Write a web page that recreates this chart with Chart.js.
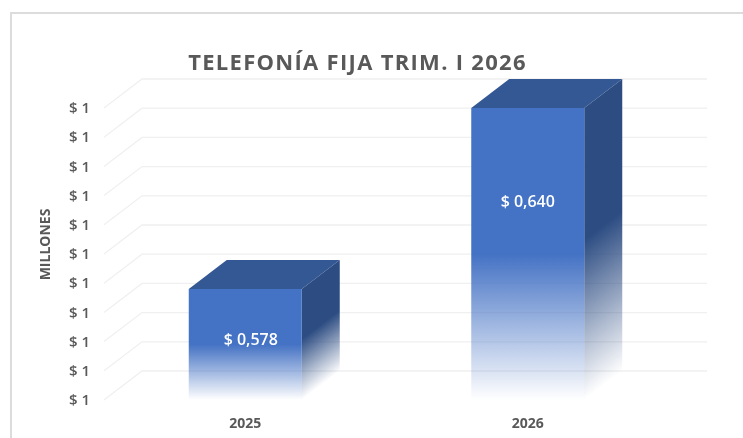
<!DOCTYPE html>
<html>
<head>
<meta charset="utf-8">
<style>
html,body{margin:0;padding:0;background:#fff;}
#wrap{position:relative;width:743px;height:438px;overflow:hidden;}
canvas{position:absolute;left:0;top:0;}
#frame{position:absolute;left:10px;top:12px;width:760px;height:460px;border:2px solid #dcdcdc;pointer-events:none;}
</style>
</head>
<body>
<div id="wrap"><canvas id="c" width="743" height="438"></canvas><div id="frame"></div></div>
<script src="https://cdn.jsdelivr.net/npm/chart.js@4"></script>
<script>
const categories = ['2025', '2026'];
const values = [0.578, 0.640];
const dataLabels = ['$ 0,578', '$ 0,640'];
const yTickLabels = ['$ 1','$ 1','$ 1','$ 1','$ 1','$ 1','$ 1','$ 1','$ 1','$ 1','$ 1'];
const titleText = 'TELEFONÍA FIJA TRIM. I 2026';
const yTitle = 'MILLONES';
const labelShift = [[5.5, -4], [0, -52]];
const depth = {x: 38, y: -29};
const FONT = '"Open Sans", sans-serif';

function rgba(c, a){ return 'rgba(' + c.join(',') + ',' + a + ')'; }

const cube = {
  id: 'cube',
  afterLayout(chart){
    const tb = chart.titleBlock;
    tb.left += 23;
    tb.right += 23;
    if(!tb._wrapped){
      const origT = tb.draw;
      tb.draw = function(){
        const c = this.ctx; c.save(); c.letterSpacing = '1.3px'; origT.call(this); c.restore();
      };
      tb._wrapped = true;
    }
    const s = chart.scales.y;
    if(!s._wrapped){
      const orig = s.drawTitle;
      s.drawTitle = function(){
        const c = this.ctx; c.save(); c.translate(0,-9.5); orig.call(this); c.restore();
      };
      const origL = s.drawLabels;
      s.drawLabels = function(a){
        const c = this.ctx; c.save(); c.translate(0,1); origL.call(this, a); c.restore();
      };
      s._wrapped = true;
    }
  },
  beforeDatasetsDraw(chart){
    const {ctx, scales:{x, y}} = chart;
    const meta = chart.getDatasetMeta(0);
    ctx.save();
    // wall + side-wall gridlines
    ctx.strokeStyle = '#f0f0f0';
    ctx.lineWidth = 1.3;
    y.ticks.forEach(t => {
      const py = y.getPixelForValue(t.value);
      ctx.beginPath();
      ctx.moveTo(x.left, py);
      ctx.lineTo(x.left + depth.x, py + depth.y);
      ctx.lineTo(x.right + depth.x, py + depth.y);
      ctx.stroke();
    });
    // 3D faces of bars
    meta.data.forEach(bar => {
      const w = bar.width, l = bar.x - w/2, r = bar.x + w/2, t = bar.y, b = y.bottom;
      // top face
      ctx.fillStyle = '#345894';
      ctx.beginPath();
      ctx.moveTo(l, t); ctx.lineTo(l+depth.x, t+depth.y);
      ctx.lineTo(r+depth.x, t+depth.y); ctx.lineTo(r, t); ctx.closePath(); ctx.fill();
      // right face, gradient skewed along the depth direction
      const len2 = depth.x*depth.x + depth.y*depth.y;
      const h = b - t;
      const k = h * depth.x / len2;
      const g = ctx.createLinearGradient(r, t, r + (-depth.y)*k, t + depth.x*k);
      const dark = [44,76,130];
      g.addColorStop(0, rgba(dark,1));
      g.addColorStop(0.45, rgba(dark,1));
      g.addColorStop(1, rgba(dark,0));
      ctx.fillStyle = g;
      ctx.beginPath();
      ctx.moveTo(r, t); ctx.lineTo(r+depth.x, t+depth.y);
      ctx.lineTo(r+depth.x, b+depth.y); ctx.lineTo(r, b); ctx.closePath(); ctx.fill();
    });
    ctx.restore();
  },
  afterDatasetsDraw(chart){
    const {ctx, scales:{y}} = chart;
    const meta = chart.getDatasetMeta(0);
    ctx.save();
    ctx.fillStyle = '#ffffff';
    ctx.font = '600 16px ' + FONT;
    ctx.textAlign = 'center';
    ctx.textBaseline = 'middle';
    meta.data.forEach((bar, i) => {
      const mid = (bar.y + y.bottom) / 2;
      ctx.fillText(dataLabels[i], bar.x + labelShift[i][0], mid + labelShift[i][1]);
    });
    ctx.restore();
  }
};

new Chart(document.getElementById('c'), {
  type: 'bar',
  data: {
    labels: categories,
    datasets: [{
      data: values,
      barPercentage: 0.4,
      categoryPercentage: 1,
      borderWidth: 0,
      backgroundColor(ctx){
        const chart = ctx.chart, y = chart.scales.y;
        if(!y || !chart.chartArea || ctx.raw === undefined) return '#4472c4';
        const top = y.getPixelForValue(ctx.raw), bottom = y.bottom;
        const g = chart.ctx.createLinearGradient(0, top, 0, bottom);
        g.addColorStop(0, 'rgba(68,114,196,1)');
        g.addColorStop(0.5, 'rgba(68,114,196,1)');
        g.addColorStop(1, 'rgba(68,114,196,0)');
        return g;
      }
    }]
  },
  options: {
    responsive: false,
    animation: false,
    devicePixelRatio: 1,
    layout: {padding: {left: 0, right: 74, top: 0, bottom: 0}},
    plugins: {
      legend: {display: false},
      tooltip: {enabled: false},
      title: {
        display: true,
        text: titleText,
        color: '#595959',
        font: {family: FONT, size: 22, weight: 'bold', lineHeight: 1.2},
        padding: {top: 51, bottom: 30.6}
      }
    },
    scales: {
      x: {
        grid: {display: false, drawTicks: false},
        border: {display: false},
        ticks: {color: '#595959', font: {family: FONT, size: 14, weight: 'bold'}, padding: 16, maxRotation: 0},
        afterFit(s){ s.height = 38; }
      },
      y: {
        min: 0.54,
        max: 0.64,
        grid: {display: false, drawTicks: false},
        border: {display: false},
        ticks: {
          stepSize: 0.01,
          color: '#595959',
          font: {family: FONT, size: 15, weight: '600'},
          padding: 14,
          callback(v, i){ return yTickLabels[i]; }
        },
        title: {
          display: true,
          text: yTitle,
          color: '#595959',
          font: {family: FONT, size: 14, weight: 'bold'},
          padding: {top: 38, bottom: 0}
        },
        afterFit(s){ s.width = 104; }
      }
    }
  },
  plugins: [cube]
});
</script>
</body>
</html>
